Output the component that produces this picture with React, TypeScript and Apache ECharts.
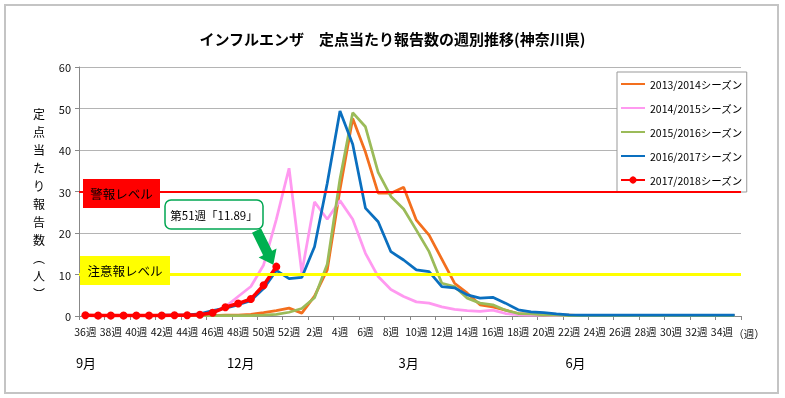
import React, { useEffect, useRef } from "react";
import * as echarts from "echarts";

const TITLE = "インフルエンザ　定点当たり報告数の週別推移(神奈川県)";
const Y_NAME = ["定", "点", "当", "た", "り", "報", "告", "数", "︵", "人", "︶"];

const WEEK_LABELS = [
  "36週", "37週", "38週", "39週", "40週", "41週", "42週", "43週", "44週", "45週",
  "46週", "47週", "48週", "49週", "50週", "51週", "52週", "1週", "2週", "3週",
  "4週", "5週", "6週", "7週", "8週", "9週", "10週", "11週", "12週", "13週",
  "14週", "15週", "16週", "17週", "18週", "19週", "20週", "21週", "22週", "23週",
  "24週", "25週", "26週", "27週", "28週", "29週", "30週", "31週", "32週", "33週",
  "34週", "35週",
];

const SERIES_NAMES = [
  "2013/2014シーズン",
  "2014/2015シーズン",
  "2015/2016シーズン",
  "2016/2017シーズン",
  "2017/2018シーズン",
];
const SERIES_COLORS = ["#F36F1E", "#FF99F0", "#9BBB59", "#0A6FBF", "#FF0000"];

const S2013 = [
  0.1, 0.1, 0.1, 0.1, 0.1, 0.1, 0.1, 0.1, 0.1, 0.1,
  0.1, 0.2, 0.2, 0.4, 0.8, 1.3, 1.9,
  0.7, 4.8, 11.1, 30.5, 47.6, 39.5, 29.6, 29.6,
  31.0, 23.1, 19.5, 13.7, 7.9, 5.5, 2.7, 2.2, 1.4, 0.6,
  0.4, 0.3, 0.2, 0.2, 0.1, 0.1, 0.1, 0.1, 0.1, 0.1, 0.1, 0.1, 0.1, 0.1, 0.1, 0.1, 0.1,
];
const S2014 = [
  0.1, 0.1, 0.1, 0.1, 0.1, 0.1, 0.1, 0.2, 0.2, 0.4,
  0.9, 2.2, 4.7, 7.1, 12.3, 23.3, 35.6,
  10.4, 27.5, 23.3, 27.8, 23.3, 15.1, 9.5, 6.4,
  4.7, 3.4, 3.1, 2.2, 1.6, 1.3, 1.1, 1.4, 0.6, 0.3,
  0.2, 0.2, 0.1, 0.1, 0.1, 0.1, 0.1, 0.1, 0.1, 0.1, 0.1, 0.1, 0.1, 0.1, 0.1, 0.1, 0.1,
];
const S2015 = [
  0.1, 0.1, 0.1, 0.1, 0.1, 0.1, 0.1, 0.1, 0.1, 0.1,
  0.1, 0.1, 0.1, 0.1, 0.2, 0.4, 0.9,
  1.8, 4.4, 12.5, 33.0, 49.0, 45.6, 34.6, 28.8,
  25.8, 20.7, 15.5, 7.9, 7.1, 4.3, 3.1, 2.7, 1.4, 0.6,
  0.5, 0.3, 0.2, 0.1, 0.1, 0.1, 0.1, 0.1, 0.1, 0.1, 0.1, 0.1, 0.1, 0.1, 0.1, 0.1, 0.1,
];
const S2016 = [
  0.1, 0.1, 0.1, 0.1, 0.1, 0.1, 0.2, 0.2, 0.3,
  0.5, 1.3, 1.9, 2.7, 3.7, 6.6, 11.0, 9.0,
  9.3, 16.7, 32.0, 49.4, 41.4, 26.0, 22.7, 15.5,
  13.5, 11.1, 10.7, 7.1, 6.8, 5.1, 4.3, 4.5, 3.1, 1.5,
  1.0, 0.8, 0.5, 0.3, 0.2, 0.2, 0.2, 0.2, 0.2, 0.2, 0.2, 0.2, 0.2, 0.2, 0.2, 0.2, 0.2,
];
const S2017 = [0.2, 0.1, 0.1, 0.1, 0.1, 0.1, 0.1, 0.2, 0.2, 0.3, 0.8, 2.1, 3.0, 4.1, 7.4, 11.89];

const Y_TICKS = { min: 0, max: 60, interval: 10 };
const LEVEL_ALERT = 30;
const LEVEL_WARN = 10;
const LEVEL_ALERT_TEXT = "警報レベル";
const LEVEL_WARN_TEXT = "注意報レベル";
const CALLOUT_TEXT = "第51週「11.89」";
const X_UNIT = "（週）";
const MONTHS = ["9月", "12月", "3月", "6月"];
const MONTH_POS = [0.05, 12.2, 25.4, 38.5];

const FONT = "'Noto Sans CJK JP', 'Noto Sans', sans-serif";

export default function App() {
  const ref = useRef<HTMLDivElement>(null);

  useEffect(() => {
    const chart = echarts.init(ref.current!, null, { renderer: "svg" });
    const data = [S2013, S2014, S2015, S2016, S2017];

    const series: any[] = data.map((d, i) => {
      const isRed = i === 4;
      const s: any = {
        name: SERIES_NAMES[i],
        type: "line",
        data: d,
        symbol: isRed ? "circle" : "none",
        symbolSize: isRed ? 8 : 0,
        showSymbol: isRed,
        lineStyle: { width: isRed ? 3.5 : 2.75, color: SERIES_COLORS[i] },
        itemStyle: { color: SERIES_COLORS[i] },
        silent: true,
      };
      if (isRed) {
        s.markLine = {
          silent: true,
          symbol: "none",
          label: { show: false },
          data: [
            { yAxis: LEVEL_ALERT, lineStyle: { color: "#FF0000", width: 2, type: "solid" } },
            { yAxis: LEVEL_WARN, lineStyle: { color: "#FFFF00", width: 3, type: "solid" } },
          ],
        };
      }
      return s;
    });

    chart.setOption({
      animation: false,
      textStyle: { fontFamily: FONT },
      title: {
        text: TITLE,
        left: "center",
        top: 26,
        textStyle: { fontSize: 15, fontWeight: "bold", color: "#000", fontFamily: FONT },
      },
      grid: { left: 79, top: 67, width: 662, height: 249, containLabel: false },
      legend: {
        data: SERIES_NAMES.map((n, i) => (i === 4 ? { name: n } : { name: n, itemStyle: { opacity: 0 } })),
        orient: "vertical",
        left: 617,
        top: 72,
        itemWidth: 24,
        itemHeight: 9,
        itemGap: 10,
        padding: [5, 4, 5, 3],
        backgroundColor: "#fff",
        borderColor: "#999",
        borderWidth: 1,
        textStyle: { fontSize: 10.5, color: "#000", fontFamily: FONT, lineHeight: 14 },
      },
      xAxis: {
        type: "category",
        data: WEEK_LABELS,
        boundaryGap: true,
        axisLine: { lineStyle: { color: "#888", width: 1 } },
        axisTick: { show: true, interval: 1, length: 4, lineStyle: { color: "#888" } },
        axisLabel: { interval: 1, fontSize: 10.5, color: "#111", margin: 10, fontFamily: FONT },
      },
      yAxis: {
        type: "value",
        min: Y_TICKS.min,
        max: Y_TICKS.max,
        interval: Y_TICKS.interval,
        axisLine: { show: true, lineStyle: { color: "#888" } },
        axisTick: { show: true, length: 4, lineStyle: { color: "#888" } },
        splitLine: { lineStyle: { color: "#b4b4b4", width: 1 } },
        axisLabel: { fontSize: 11, color: "#111", margin: 8, fontFamily: FONT },
      },
      series,
    });

    const x0 = chart.convertToPixel({ xAxisIndex: 0 }, 0) as number;
    const x1 = chart.convertToPixel({ xAxisIndex: 0 }, 1) as number;
    const catW = x1 - x0;
    const px = (pos: number) => x0 + pos * catW;
    const py = (v: number) => chart.convertToPixel({ yAxisIndex: 0 }, v) as number;
    const gridLeft = x0 - catW / 2;
    const gridRight = gridLeft + catW * WEEK_LABELS.length;
    const yBottom = py(0);

    const graphics: any[] = [];
    graphics.push({
      type: "rect",
      silent: true,
      z: 0,
      shape: { x: 5, y: 5, width: 773, height: 388 },
      style: { fill: "none", stroke: "#c4c4c4", lineWidth: 2 },
    });

    // y-axis name (vertical, one character per line)
    graphics.push({
      type: "text",
      silent: true,
      z: 100,
      x: 39,
      y: 203,
      style: {
        text: Y_NAME.join("\n"),
        fontSize: 12,
        lineHeight: 18,
        fontFamily: FONT,
        fill: "#000",
        align: "center",
        verticalAlign: "middle",
      },
    });

    // unit label
    graphics.push({
      type: "text",
      silent: true,
      z: 100,
      x: gridRight + 8,
      y: yBottom + 17,
      style: { text: X_UNIT, fontSize: 10.5, fontFamily: FONT, fill: "#111", align: "center", verticalAlign: "middle" },
    });

    // month labels
    MONTHS.forEach((m, i) => {
      graphics.push({
        type: "text",
        silent: true,
        z: 100,
        x: px(MONTH_POS[i]),
        y: yBottom + 46,
        style: { text: m, fontSize: 13, fontFamily: FONT, fill: "#000", align: "center", verticalAlign: "middle" },
      });
    });

    // alert level box
    const ya = py(LEVEL_ALERT) + 2;
    graphics.push({
      type: "rect",
      silent: true,
      z: 100,
      shape: { x: gridLeft + 4, y: ya - 14.5, width: 77, height: 29 },
      style: { fill: "#FF0000" },
    });
    graphics.push({
      type: "text",
      silent: true,
      z: 101,
      x: gridLeft + 4 + 38.5,
      y: ya,
      style: { text: LEVEL_ALERT_TEXT, fontSize: 12.5, fontFamily: FONT, fill: "#000", align: "center", verticalAlign: "middle" },
    });

    // warning level box
    const yw = py(LEVEL_WARN) - 4;
    graphics.push({
      type: "rect",
      silent: true,
      z: 100,
      shape: { x: gridLeft + 1, y: yw - 14.5, width: 90, height: 29 },
      style: { fill: "#FFFF00" },
    });
    graphics.push({
      type: "text",
      silent: true,
      z: 101,
      x: gridLeft + 1 + 45,
      y: yw,
      style: { text: LEVEL_WARN_TEXT, fontSize: 12.5, fontFamily: FONT, fill: "#000", align: "center", verticalAlign: "middle" },
    });

    // callout box
    graphics.push({
      type: "rect",
      silent: true,
      z: 100,
      shape: { x: 165, y: 200, width: 98, height: 29, r: 6 },
      style: { fill: "#fff", stroke: "#00A651", lineWidth: 1.5 },
    });
    graphics.push({
      type: "text",
      silent: true,
      z: 101,
      x: 214,
      y: 214.5,
      style: { text: CALLOUT_TEXT, fontSize: 11.5, fontFamily: FONT, fill: "#000", align: "center", verticalAlign: "middle" },
    });

    // arrow pointing to week 51 value
    const tipX = px(15) - 3;
    const tipY = py(S2017[15]) - 2;
    const sx = 256.5, sy = 230.5;
    const dx = tipX - sx, dy = tipY - sy;
    const len = Math.sqrt(dx * dx + dy * dy);
    const ux = dx / len, uy = dy / len;
    const nx = uy, ny = -ux;
    const hx = tipX - ux * 13, hy = tipY - uy * 13;
    const w1 = 5, w2 = 10;
    graphics.push({
      type: "polygon",
      silent: true,
      z: 100,
      shape: {
        points: [
          [sx + nx * w1, sy + ny * w1],
          [hx + nx * w1, hy + ny * w1],
          [hx + nx * w2, hy + ny * w2],
          [tipX, tipY],
          [hx - nx * w2, hy - ny * w2],
          [hx - nx * w1, hy - ny * w1],
          [sx - nx * w1, sy - ny * w1],
        ],
      },
      style: { fill: "#00B050" },
    });

    chart.setOption({ graphic: { elements: graphics } });

    return () => chart.dispose();
  }, []);

  return <div ref={ref} style={{ position: "fixed", left: 0, top: 0, width: 785, height: 398 }} />;
}
